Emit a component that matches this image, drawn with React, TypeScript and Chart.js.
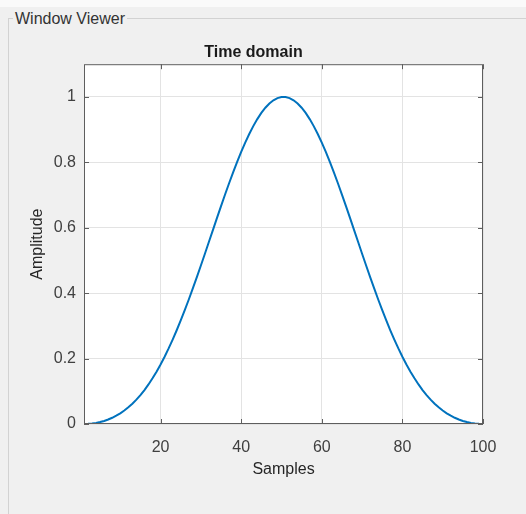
import React, { useEffect, useRef } from "react";
import { Chart, registerables } from "chart.js";

Chart.register(...registerables);

const samples: number[] = Array.from({ length: 100 }, (_, i) => i + 1);

const halfValues: number[] = [
  0, 0.0004, 0.0015, 0.0033, 0.0059, 0.0094, 0.0137, 0.019, 0.0253, 0.0326,
  0.0411, 0.0509, 0.0619, 0.0744, 0.0883, 0.1038, 0.1209, 0.1396, 0.1599, 0.1819,
  0.2056, 0.231, 0.258, 0.2866, 0.3166, 0.348, 0.3806, 0.4144, 0.4491, 0.4846,
  0.5206, 0.5571, 0.5936, 0.63, 0.6661, 0.7015, 0.736, 0.7695, 0.8015, 0.8319,
  0.8604, 0.8867, 0.9107, 0.9322, 0.9511, 0.967, 0.98, 0.9897, 0.9963, 0.9996,
];
const amplitude: number[] = [...halfValues, ...halfValues.slice().reverse()];

const xTicks: number[] = [20, 40, 60, 80, 100];
const yTicks: number[] = [0, 0.2, 0.4, 0.6, 0.8, 1];

const FONT = "'Liberation Sans', Arial, Helvetica, sans-serif";

const matlabAxes = {
  id: "matlabAxes",
  beforeDraw(chart: any) {
    const { ctx, chartArea: a } = chart;
    ctx.save();
    ctx.fillStyle = "#ffffff";
    ctx.fillRect(a.left, a.top, a.right - a.left, a.bottom - a.top);
    ctx.restore();
  },
  afterDraw(chart: any) {
    const { ctx, chartArea: a, scales } = chart;
    const len = 5;
    ctx.save();
    ctx.strokeStyle = "#5e5e5e";
    ctx.lineWidth = 1;
    ctx.strokeRect(a.left + 0.5, a.top + 0.5, a.right - a.left - 1, a.bottom - a.top - 1);
    ctx.beginPath();
    for (const v of xTicks) {
      const x = Math.round(scales.x.getPixelForValue(v)) + 0.5;
      ctx.moveTo(x, a.bottom);
      ctx.lineTo(x, a.bottom - len);
      ctx.moveTo(x, a.top);
      ctx.lineTo(x, a.top + len);
    }
    for (const v of yTicks) {
      const y = Math.round(scales.y.getPixelForValue(v)) + 0.5;
      ctx.moveTo(a.left, y);
      ctx.lineTo(a.left + len, y);
      ctx.moveTo(a.right, y);
      ctx.lineTo(a.right - len, y);
    }
    ctx.stroke();
    ctx.restore();
  },
};

export default function App() {
  const ref = useRef<HTMLCanvasElement | null>(null);

  useEffect(() => {
    document.body.style.margin = "0";
    const canvas = ref.current;
    if (!canvas) return;
    const chart = new Chart(canvas, {
      type: "line",
      data: {
        datasets: [
          {
            data: samples.map((s, i) => ({ x: s, y: amplitude[i] })),
            borderColor: "#0072BD",
            borderWidth: 2,
            pointRadius: 0,
            tension: 0,
            fill: false,
          },
        ],
      },
      options: {
        animation: false,
        responsive: false,
        maintainAspectRatio: false,
        layout: { padding: { left: 24, right: 43, top: 43, bottom: 35 } },
        plugins: {
          legend: { display: false },
          tooltip: { enabled: false },
          title: {
            display: true,
            text: "Time domain",
            color: "#1a1a1a",
            font: { family: FONT, size: 16, weight: "bold" },
            padding: { top: 0, bottom: 2 },
          },
        },
        scales: {
          x: {
            type: "linear",
            min: 1,
            max: 100,
            afterBuildTicks: (s: any) => {
              s.ticks = xTicks.map((v) => ({ value: v }));
            },
            afterFit: (s: any) => {
              s.height = 55;
            },
            grid: { color: "#e3e3e3", lineWidth: 1, drawTicks: false },
            border: { display: false },
            ticks: {
              color: "#404040",
              font: { family: FONT, size: 16 },
              padding: 14,
              maxRotation: 0,
              autoSkip: false,
              callback: (v: any) => String(v),
            },
            title: {
              display: true,
              text: "Samples",
              color: "#262626",
              font: { family: FONT, size: 16 },
              padding: { top: 2, bottom: 0 },
            },
          },
          y: {
            type: "linear",
            min: 0,
            max: 1.1,
            afterBuildTicks: (s: any) => {
              s.ticks = yTicks.map((v) => ({ value: v }));
            },
            afterFit: (s: any) => {
              s.width = 60;
            },
            grid: { color: "#e3e3e3", lineWidth: 1, drawTicks: false },
            border: { display: false },
            ticks: {
              color: "#404040",
              font: { family: FONT, size: 16 },
              padding: 8,
              autoSkip: false,
              callback: (v: any) => String(Math.round(Number(v) * 10) / 10),
            },
            title: {
              display: true,
              text: "Amplitude",
              color: "#262626",
              font: { family: FONT, size: 16 },
              padding: { top: 4, bottom: 4 },
            },
          },
        },
      },
      plugins: [matlabAxes],
    } as any);
    return () => chart.destroy();
  }, []);

  return (
    <div
      style={{
        position: "relative",
        width: 526,
        height: 514,
        background: "#f0f0f0",
        overflow: "hidden",
        fontFamily: FONT,
      }}
    >
      <div style={{ position: "absolute", left: 0, top: 0, width: 526, height: 7, background: "#fafafa" }} />
      <div
        style={{
          position: "absolute",
          left: 8,
          top: 18,
          width: 560,
          height: 560,
          border: "1px solid #d2d2d2",
          boxSizing: "border-box",
        }}
      />
      <span
        style={{
          position: "absolute",
          left: 13,
          top: 9,
          padding: "0 2px",
          background: "#f0f0f0",
          color: "#333333",
          fontSize: 16,
          lineHeight: "19px",
          whiteSpace: "nowrap",
        }}
      >
        Window Viewer
      </span>
      <canvas
        ref={ref}
        width={526}
        height={514}
        style={{ position: "absolute", left: 0, top: 0, width: 526, height: 514 }}
      />
    </div>
  );
}
